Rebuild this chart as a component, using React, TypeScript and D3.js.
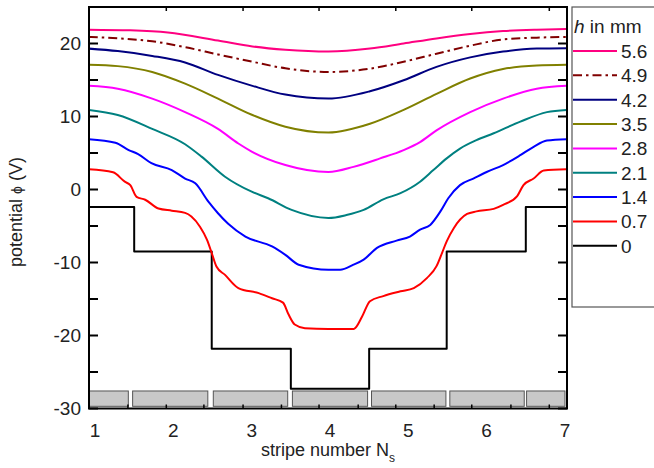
import React from "react";
import * as d3 from "d3";

const W = 654;
const H = 468;

// x: stripe number, y: potential (V)
const xDomain = [0.923, 7.026];
const yDomain = [-30, 25];

const hLabels = ["5.6", "4.9", "4.2", "3.5", "2.8", "2.1", "1.4", "0.7", "0"];
const colors = ["#FF0080", "#800000", "#000080", "#808000", "#FF00FF", "#008080", "#0000FF", "#FF0000", "#000000"];

const x56 = [0.92, 1.45, 1.93, 2.57, 3.01, 3.43, 3.98, 4.51, 4.94, 5.36, 5.79, 6.21, 6.64, 7.02];
const v56 = [21.9, 21.8, 21.5, 20.4, 19.6, 19.15, 18.9, 19.3, 20.0, 20.7, 21.3, 21.7, 21.9, 22.0];

const x49 = [0.92, 1.29, 1.73, 2.15, 2.57, 3.01, 3.43, 3.98, 4.51, 4.94, 5.36, 5.79, 6.21, 6.64, 7.02];
const v49 = [20.9, 20.7, 20.3, 19.5, 18.5, 17.5, 16.6, 16.1, 16.55, 17.5, 18.6, 19.7, 20.55, 20.8, 20.9];

const x42 = [0.92, 1.29, 1.73, 2.15, 2.57, 3.01, 3.43, 3.98, 4.51, 4.94, 5.36, 5.79, 6.21, 6.64, 7.02];
const v42 = [19.3, 18.96, 18.3, 17.4, 15.7, 14.2, 13.0, 12.45, 13.45, 14.96, 16.8, 18.1, 18.9, 19.3, 19.35];

const x35 = [0.92, 1.29, 1.73, 2.15, 2.57, 3.01, 3.43, 3.98, 4.51, 4.94, 5.36, 5.79, 6.21, 6.64, 7.02];
const v35 = [17.1, 16.9, 16.1, 14.5, 12.45, 10.2, 8.6, 7.8, 9.0, 10.9, 13.1, 15.2, 16.5, 17.0, 17.1];

const x28 = [0.92, 1.29, 1.73, 2.15, 2.57, 2.83, 3.0, 3.43, 3.98, 4.3, 4.64, 4.94, 5.15, 5.36, 5.79, 6.21, 6.64, 7.02];
const v28 = [14.2, 13.8, 12.45, 10.6, 8.3, 6.3, 5.2, 3.35, 2.4, 3.1, 4.26, 5.4, 6.5, 8.1, 10.6, 12.45, 13.8, 14.2];

const x21 = [0.92, 1.29, 1.73, 2.15, 2.36, 2.66, 3.0, 3.21, 3.51, 3.98, 4.21, 4.43, 4.68, 4.9, 5.15, 5.32, 5.49, 5.66, 5.87, 6.09, 6.43, 6.77, 7.02];
const v21 = [10.9, 10.2, 8.3, 6.2, 4.5, 1.75, -0.3, -1.2, -2.8, -3.9, -3.5, -2.8, -1.35, -0.5, 1.07, 2.66, 4.26, 5.6, 6.76, 7.7, 9.3, 10.6, 10.9];

const x14 = [0.92, 1.26, 1.43, 1.55, 1.72, 1.98, 2.15, 2.28, 2.45, 2.57, 2.7, 2.92, 3.26, 3.43, 3.6, 3.98, 4.13, 4.3, 4.43, 4.6, 4.85, 5.02, 5.15, 5.28, 5.41, 5.51, 5.66, 5.83, 6.0, 6.21, 6.43, 6.6, 6.77, 7.02];
const v14 = [6.9, 6.4, 5.4, 4.85, 3.6, 2.66, 1.5, 0.85, -1.7, -3.25, -4.7, -6.45, -7.8, -8.95, -10.3, -11.0, -11.0, -10.3, -9.6, -8.0, -7.0, -6.45, -5.5, -4.85, -3.0, -1.2, 0.6, 1.5, 2.4, 3.35, 4.7, 5.85, 6.7, 6.9];

const x07 = [0.92, 1.23, 1.38, 1.45, 1.53, 1.64, 1.81, 1.98, 2.15, 2.23, 2.34, 2.43, 2.49, 2.55, 2.66, 2.83, 3.09, 3.26, 3.4, 3.47, 3.55, 3.68, 3.98, 4.3, 4.32, 4.41, 4.51, 4.68, 4.9, 5.07, 5.24, 5.36, 5.43, 5.49, 5.58, 5.75, 5.87, 6.09, 6.21, 6.39, 6.47, 6.6, 6.73, 7.02];
const v07 = [2.76, 2.35, 1.07, 0.6, -1.0, -1.4, -2.6, -2.9, -3.2, -3.7, -5.1, -6.9, -8.7, -10.55, -11.7, -13.5, -14.2, -14.9, -15.5, -17.1, -18.5, -19.0, -19.1, -19.1, -19.0, -17.4, -15.3, -14.6, -13.95, -13.5, -12.1, -10.5, -8.7, -7.1, -5.3, -3.35, -3.0, -2.65, -2.1, -0.9, 0.6, 1.5, 2.6, 2.76];

const x00 = [0.92, 1.5, 2.49, 3.5, 4.5, 5.49, 6.5, 7.02];
const v00 = [-2.4, -8.5, -21.8, -27.3, -21.8, -8.5, -2.4, -2.4];

// electrode stripes at the bottom
const stripeStart = [0.923, 1.48, 2.51, 3.52, 4.53, 5.53, 6.51];
const stripeEnd = [1.425, 2.44, 3.46, 4.48, 5.48, 6.48, 7.0];
const stripeTop = -27.6;
const stripeBottom = -29.7;

const xTickLabels = [1, 2, 3, 4, 5, 6, 7];
const xBottomTicks = [1.42, 1.91, 2.39, 2.89, 3.38, 3.86, 4.36, 4.84, 5.33, 5.81, 6.31, 6.8];
const xTopTicks = [1.91, 2.89, 3.86, 4.84, 5.81, 6.8];
const yTickLabels = [-30, -20, -10, 0, 10, 20];
const yTicks = [-30, -25, -20, -15, -10, -5, 0, 5, 10, 15, 20, 25];

const seriesX = [x56, x49, x42, x35, x28, x21, x14, x07, x00];
const seriesV = [v56, v49, v42, v35, v28, v21, v14, v07, v00];

const L = 89, R = 567, T = 7, B = 408.5;
const FONT = "'Liberation Sans', Arial, sans-serif";

export default function App() {
  const x = d3.scaleLinear().domain(xDomain).range([L, R]);
  const y = d3.scaleLinear().domain(yDomain).range([B, T]);

  const smooth = d3.line<[number, number]>().x(d => x(d[0])).y(d => y(d[1])).curve(d3.curveMonotoneX);
  const step = d3.line<[number, number]>().x(d => x(d[0])).y(d => y(d[1])).curve(d3.curveStepAfter);

  const order = [8, 7, 6, 5, 4, 3, 2, 1, 0];

  return (
    <svg width={W} height={H} style={{ position: "absolute", left: 0, top: 0, background: "#fff" }} fontFamily={FONT}>
      <defs>
        <clipPath id="plotclip">
          <rect x={L} y={T} width={R - L} height={B - T} />
        </clipPath>
      </defs>
      {/* stripes */}
      {stripeStart.map((s, i) => (
        <rect key={"st" + i} x={x(s)} y={y(stripeTop)} width={x(stripeEnd[i]) - x(s)} height={y(stripeBottom) - y(stripeTop)}
          fill="#c8c8c8" stroke="#555" strokeWidth={1} />
      ))}
      <g clipPath="url(#plotclip)">
        {order.map(i => {
          const pts = seriesX[i].map((xv, j) => [xv, seriesV[i][j]] as [number, number]);
          const d = i === 8 ? step(pts) : smooth(pts);
          return (
            <path key={"s" + i} d={d || ""} fill="none" stroke={colors[i]} strokeWidth={2}
              strokeDasharray={i === 1 ? "9 4 2.5 4" : undefined} strokeLinejoin="round" />
          );
        })}
      </g>
      {/* ticks */}
      {yTicks.map(t => (
        <g key={"yt" + t}>
          <line x1={L} x2={L + 9} y1={y(t)} y2={y(t)} stroke="#000" strokeWidth={2} />
          <line x1={R - 9} x2={R} y1={y(t)} y2={y(t)} stroke="#000" strokeWidth={2} />
        </g>
      ))}
      {xBottomTicks.map(t => (
        <line key={"xb" + t} x1={x(t)} x2={x(t)} y1={B} y2={B - 4} stroke="#000" strokeWidth={1.5} />
      ))}
      {xTopTicks.map(t => (
        <line key={"xt" + t} x1={x(t)} x2={x(t)} y1={T} y2={T + 4} stroke="#000" strokeWidth={1.5} />
      ))}
      {/* frame */}
      <rect x={L} y={T} width={R - L} height={B - T} fill="none" stroke="#000" strokeWidth={2} />
      {/* tick labels */}
      {yTickLabels.map(t => (
        <text key={"yl" + t} x={81} y={y(t)} dy="0.36em" textAnchor="end" fontSize={19} fill="#222">{t}</text>
      ))}
      {xTickLabels.map(t => (
        <text key={"xl" + t} x={x(t)} y={437} textAnchor="middle" fontSize={19} fill="#222">{t}</text>
      ))}
      {/* axis titles */}
      <text x={328} y={456} textAnchor="middle" fontSize={18} fill="#222">
        stripe number N<tspan fontSize={12} dy={6}>s</tspan>
      </text>
      <text transform="translate(22,212) rotate(-90)" textAnchor="middle" fontSize={18} fill="#222">
        potential <tspan fontSize={14}>ϕ</tspan> (V)
      </text>
      {/* legend */}
      <rect x={572} y={7} width={100} height={300} fill="#fff" stroke="#555" strokeWidth={1.2} />
      <text x={574} y={33} fontSize={19} fill="#222"><tspan fontStyle="italic">h</tspan> in mm</text>
      {hLabels.map((lab, i) => {
        const ly = 51 + i * 24.35;
        return (
          <g key={"lg" + i}>
            <line x1={573} x2={617} y1={ly} y2={ly} stroke={colors[i]} strokeWidth={2}
              strokeDasharray={i === 1 ? "9 4 2.5 4" : undefined} />
            <text x={621} y={ly} dy="0.36em" fontSize={19} fill="#222">{lab}</text>
          </g>
        );
      })}
    </svg>
  );
}
